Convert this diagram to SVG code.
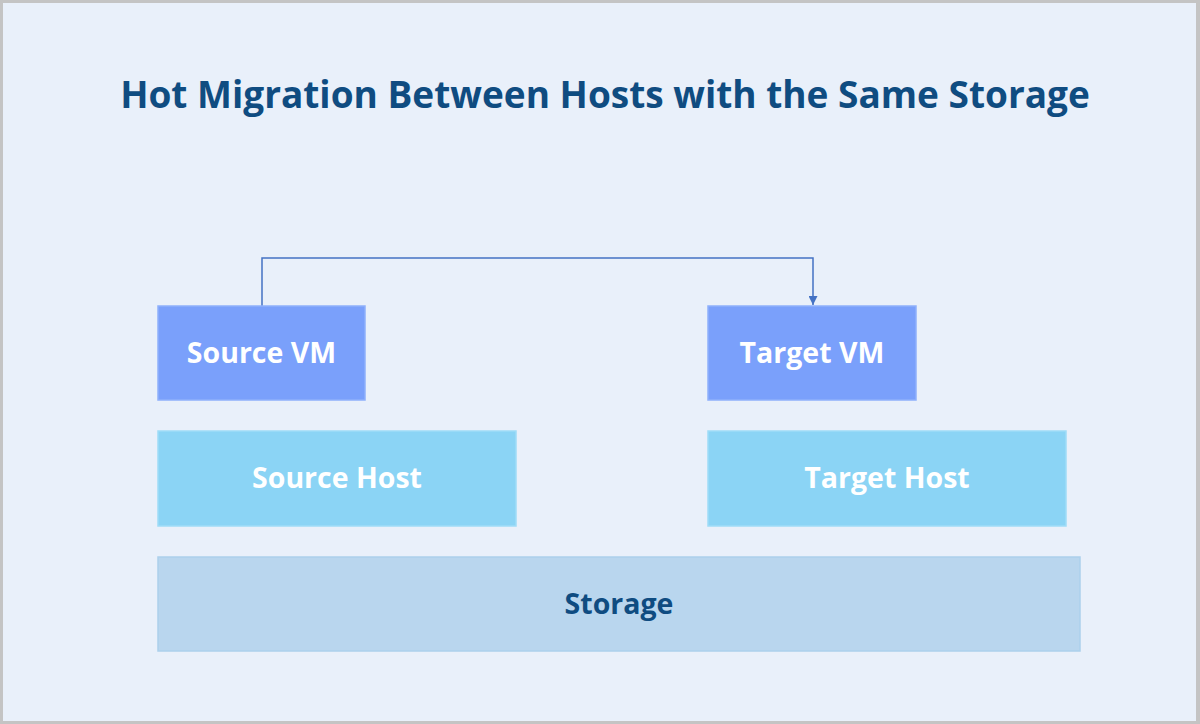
<svg xmlns="http://www.w3.org/2000/svg" width="1200" height="724" viewBox="0 0 1200 724">
<defs>
<style>
.vm{fill:#7aa0fb;stroke:#8fb0fb;stroke-width:1.5}
.host{fill:#8bd4f5;stroke:#9fdcf7;stroke-width:1.5}
.stor{fill:#b9d6ee;stroke:#acd0ec;stroke-width:1.5}
.lbl{font-family:"Open Sans","Noto Sans",sans-serif;font-weight:bold;font-size:28.5px;text-anchor:middle;fill:#ffffff}
.dark{fill:#0f4c81}
.title{font-family:"Open Sans","Noto Sans",sans-serif;font-weight:bold;font-size:37px;text-anchor:middle;fill:#0f4c81}
.conn{fill:none;stroke:#4472c4;stroke-width:1.5}
</style>
<marker id="arr" viewBox="0 0 10 10" refX="10" refY="5" markerWidth="9" markerHeight="9" markerUnits="userSpaceOnUse" orient="auto"><path d="M0,0 L10,5 L0,10 z" fill="#4472c4"/></marker>
</defs>
<rect x="0" y="0" width="1200" height="724" fill="#c4c4c4"/>
<rect x="3" y="3" width="1193" height="718" fill="#e9f0fa"/>
<text class="title" x="605" y="108">Hot Migration Between Hosts with the Same Storage</text>
<g id="connectors">
<path class="conn" d="M262,306 V258 H813 V305" marker-end="url(#arr)"/>
</g>
<g id="source-vm"><rect class="vm" x="158" y="306" width="207" height="94"/><text class="lbl" x="261.5" y="363">Source VM</text></g>
<g id="target-vm"><rect class="vm" x="708" y="306" width="208" height="94"/><text class="lbl" x="812" y="363">Target VM</text></g>
<g id="source-host"><rect class="host" x="158" y="431" width="358" height="95"/><text class="lbl" x="337" y="488">Source Host</text></g>
<g id="target-host"><rect class="host" x="708" y="431" width="358" height="95"/><text class="lbl" x="887" y="488">Target Host</text></g>
<g id="storage"><rect class="stor" x="158" y="557" width="922" height="94"/><text class="lbl dark" x="619" y="614">Storage</text></g>
</svg>
